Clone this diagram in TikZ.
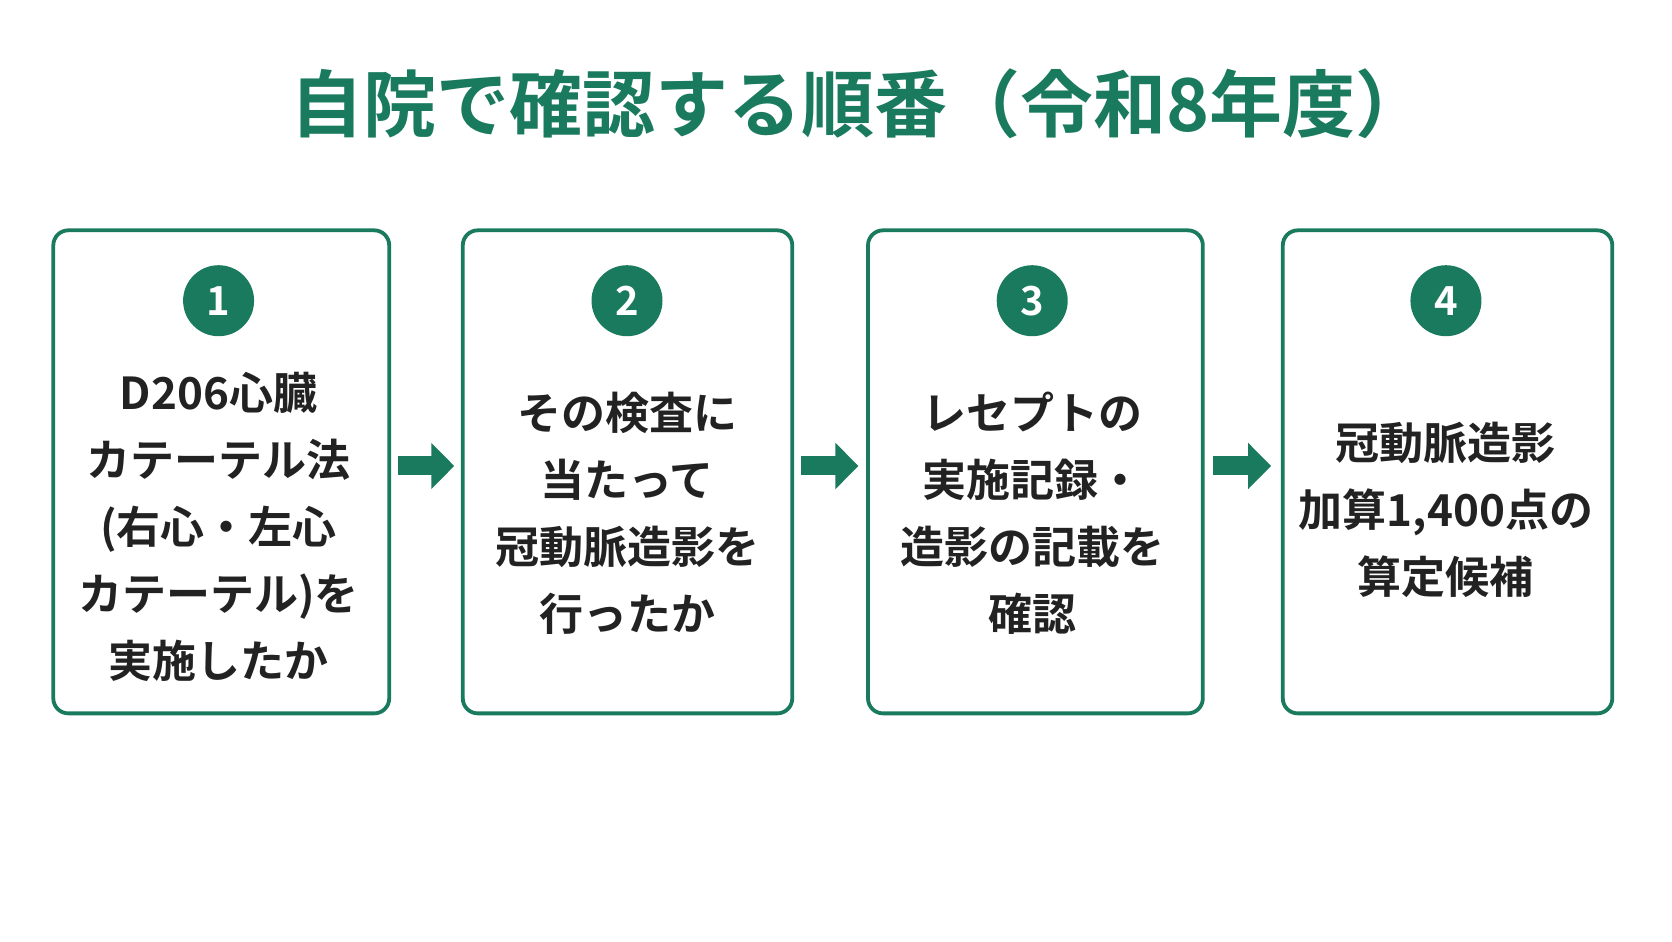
\documentclass[tikz,border=0pt]{standalone}
\usepackage{fontspec}
\setmainfont{Noto Sans CJK JP}[BoldFont={* Bold}]
\newfontfamily\cjk{Noto Sans CJK JP}[BoldFont={* Bold}]
\usetikzlibrary{arrows.meta}
\definecolor{grn}{HTML}{1A7A5E}
\definecolor{txt}{HTML}{222222}
\begin{document}
\begin{tikzpicture}[x=1.0663pt,y=-1.0663pt,
  box/.style={draw=grn,line width=3.8pt,rounded corners=15pt,fill=white},
  num/.style={circle,fill=grn,minimum size=71pt,inner sep=0pt,text=white,font=\cjk\bfseries\fontsize{40}{40}\selectfont},
  body/.style={align=center,text=txt,font=\cjk\bfseries\fontsize{44}{67}\selectfont},
  arr/.style={-{Triangle[length=23pt,width=45pt]},line width=19pt,draw=grn}]
\useasboundingbox[fill=white] (0,0) rectangle (1568,882.5);
\node[text=grn,font=\cjk\bfseries\fontsize{73}{73}\selectfont] (title) at (806,97) {自院で確認する順番（令和8年度）};
\draw[box] (50,216) rectangle (365,669);
\draw[box] (434,216) rectangle (743,669);
\draw[box] (814,216) rectangle (1128,669);
\draw[box] (1203,216) rectangle (1512,669);
\node[num] (n1) at (205,282) {1};
\node[num] (n2) at (588,282) {2};
\node[num] (n3) at (968,282) {3};
\node[num] (n4) at (1356,282) {4};
\node[body] (t1) at (205,494) {D206心臓\\カテーテル法\\(右心・左心\\カテーテル)を\\実施したか};
\node[body] (t2) at (588,481) {その検査に\\当たって\\冠動脈造影を\\行ったか};
\node[body] (t3) at (968,481) {レセプトの\\実施記録・\\造影の記載を\\確認};
\node[body] (t4) at (1356,478) {冠動脈造影\\加算1,400点の\\算定候補};
\coordinate (a1s) at (373,437); \coordinate (a1e) at (426,437);
\coordinate (a2s) at (751,437); \coordinate (a2e) at (805,437);
\coordinate (a3s) at (1138,437); \coordinate (a3e) at (1192,437);
\draw[arr] (a1s) -- (a1e);
\draw[arr] (a2s) -- (a2e);
\draw[arr] (a3s) -- (a3e);
\end{tikzpicture}
\end{document}
